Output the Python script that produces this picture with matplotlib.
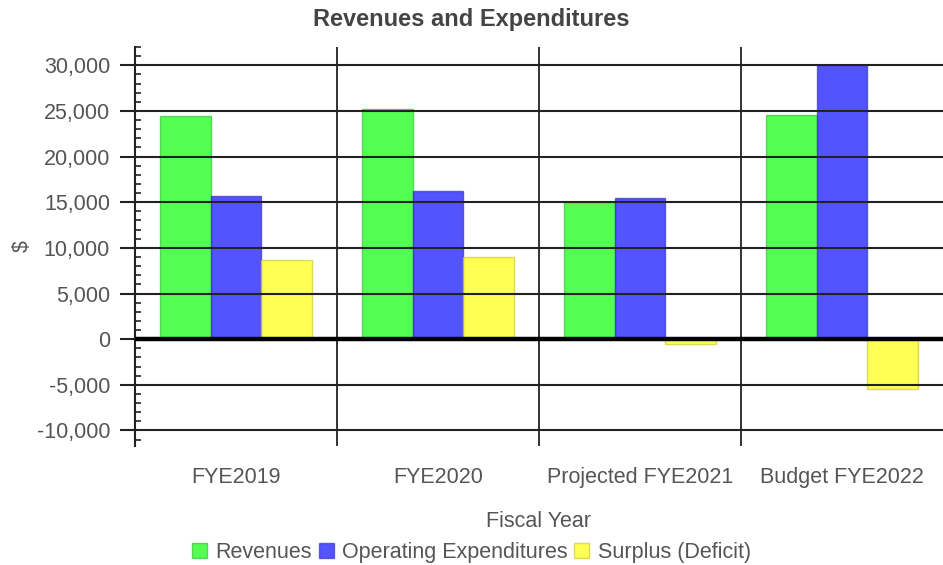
import numpy as np
import matplotlib.pyplot as plt
from matplotlib.ticker import MultipleLocator, FuncFormatter
from matplotlib.patches import Patch

plt.rcParams['font.family'] = ['Liberation Sans', 'DejaVu Sans']

years = ['FYE2019', 'FYE2020', 'Projected FYE2021', 'Budget FYE2022']
revenues = [24400, 25200, 15000, 24500]
expenditures = [15700, 16200, 15500, 30000]
surplus = [8700, 9000, -500, -5500]

series = [
    ('Revenues', revenues, '#00ff00', '#2fbf2f'),
    ('Operating Expenditures', expenditures, '#0000ff', '#2f2fbf'),
    ('Surplus (Deficit)', surplus, '#ffff00', '#c8c82a'),
]

txt = '#555555'

fig = plt.figure(figsize=(9.43, 5.65), dpi=100)
ax = fig.add_axes([135 / 943, 1 - 446 / 565, 1 - 135 / 943, (446 - 47) / 565])

x = np.arange(len(years))
w = 0.25
for i, (name, vals, fc, ec) in enumerate(series):
    ax.bar(x + (i - 1) * w, vals, w, color=fc, alpha=0.67, edgecolor=ec,
           linewidth=1, zorder=2)

ax.set_xlim(-0.5, len(years) - 0.5)
ax.set_ylim(-11700, 32000)

# grid lines on top of the translucent bars
ax.yaxis.set_major_locator(MultipleLocator(5000))
ax.yaxis.set_minor_locator(MultipleLocator(1000))
ax.yaxis.set_major_formatter(FuncFormatter(lambda v, p: f'{int(v):,}'))
for v in np.arange(-10000, 30001, 5000):
    if v != 0:
        ax.axhline(v, color='#222222', lw=1.5, zorder=3)
ax.axhline(0, color='black', lw=3.2, zorder=4)
for b in x[1:] - 0.5:
    ax.axvline(b, color='#222222', lw=1.3, zorder=3)

for s in ['top', 'right', 'bottom']:
    ax.spines[s].set_visible(False)
ax.spines['left'].set_color('#222222')
ax.spines['left'].set_linewidth(1.5)

ax.tick_params(axis='y', which='major', direction='out', length=11, width=1.5,
               color='#222222', labelsize=15.5, labelcolor=txt, pad=7)
ax.tick_params(axis='y', which='minor', direction='in', length=4, width=1.2,
               color='#222222')
ax.set_xticks(x)
ax.set_xticklabels(years)
ax.tick_params(axis='x', length=0, labelsize=15.5, labelcolor=txt, pad=15)

ax.set_xlabel('Fiscal Year', fontsize=15.5, color=txt, labelpad=17)
ax.set_ylabel('$', fontsize=15.5, color=txt, labelpad=3)

fig.suptitle('Revenues and Expenditures', fontsize=17, fontweight='bold',
             color='#444444', x=0.5, y=0.985)

handles = [Patch(facecolor=fc, edgecolor=ec, alpha=0.67, label=name)
           for name, vals, fc, ec in series]
fig.legend(handles=handles, loc='lower center', ncol=3, frameon=False,
           bbox_to_anchor=(0.5, -0.03), fontsize=15.5, handlelength=0.7,
           handleheight=0.7, handletextpad=0.4, columnspacing=0.3,
           labelcolor=txt)

fig.savefig('out.png', dpi=100)
